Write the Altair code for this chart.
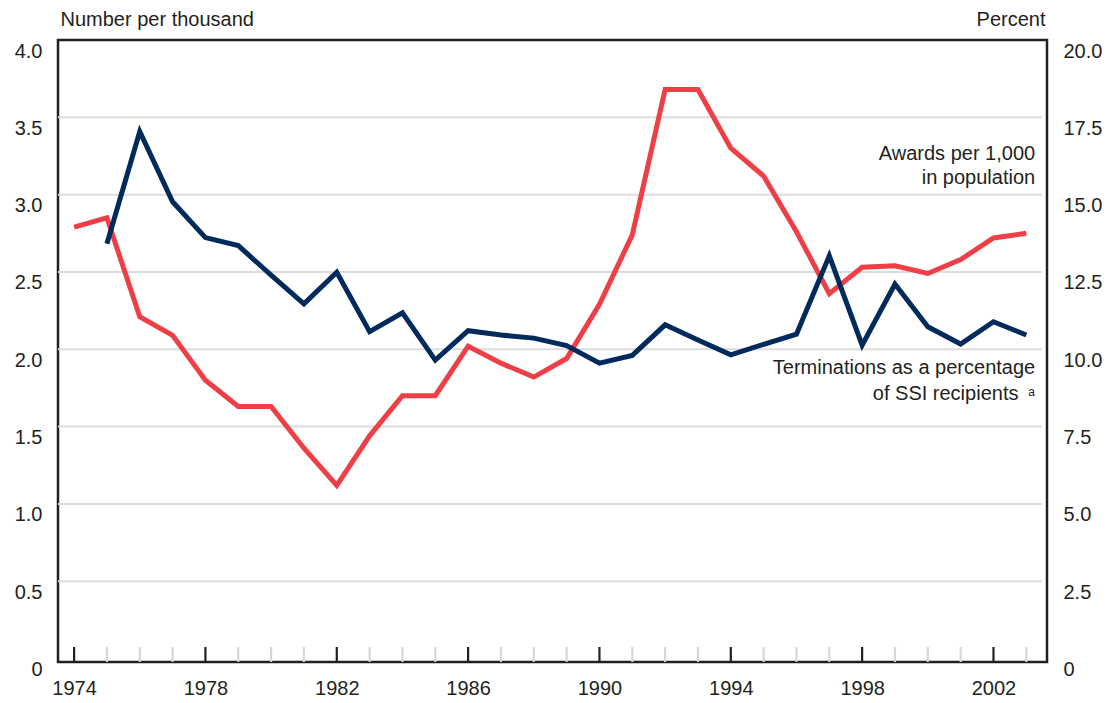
import altair as alt
import pandas as pd

# ---------------- data ----------------
years = list(range(1974, 2004))
awards_per_1000 = [2.79, 2.85, 2.21, 2.09, 1.80, 1.63, 1.63, 1.36, 1.12, 1.44,
                   1.70, 1.70, 2.02, 1.91, 1.82, 1.94, 2.29, 2.74, 3.68, 3.68,
                   3.30, 3.12, 2.76, 2.36, 2.53, 2.54, 2.49, 2.58, 2.72, 2.75]

term_years = list(range(1975, 2004))
terminations_pct = [13.41, 17.04, 14.77, 13.61, 13.35, 12.40, 11.47, 12.49, 10.57,
                    11.18, 9.65, 10.60, 10.46, 10.36, 10.12, 9.55, 9.80, 10.79,
                    10.30, 9.82, 10.16, 10.49, 13.02, 10.13, 12.11, 10.73, 10.17,
                    10.89, 10.46]

left_ticks = [0, 0.5, 1.0, 1.5, 2.0, 2.5, 3.0, 3.5, 4.0]
right_ticks = [0, 2.5, 5.0, 7.5, 10.0, 12.5, 15.0, 17.5, 20.0]
grid_values = [0.5, 1.0, 1.5, 2.0, 2.5, 3.0, 3.5]
label_years = [1974, 1978, 1982, 1986, 1990, 1994, 1998, 2002]
tick_years = list(range(1974, 2004))

ann_text = ["Awards per 1,000", "in population",
            "Terminations as a percentage", "of SSI recipients"]
ann_year = [2003.27, 2003.27, 2003.27, 2002.76]
ann_val = [3.265, 3.105, 1.879, 1.709]

sup_text = ["a"]
sup_year = [2003.26]
sup_val = [1.70]

# ---------------- styling ----------------
W, H = 989, 622
XDOM = [1973.51, 2003.63]
YL = [-0.0226, 4.0]
YR = [-0.113, 20.0]
INK = "#231f20"
RED = "#ef3e45"
NAVY = "#002a5c"
GRID = "#dcdcdc"
FONT = "Liberation Sans"
FS = 20

red_df = pd.DataFrame({"year": years, "awards": awards_per_1000})
blue_df = pd.DataFrame({"year": term_years, "pct": terminations_pct})
grid_df = pd.DataFrame({"g": grid_values})
tick_df = pd.DataFrame({"year": tick_years,
                        "kind": ["major" if y in label_years else "minor" for y in tick_years]})
ann_df = pd.DataFrame({"year": ann_year, "val": ann_val, "text": ann_text})
sup_df = pd.DataFrame({"year": sup_year, "val": sup_val, "text": sup_text})

xscale = alt.Scale(domain=XDOM, nice=False, zero=False)
x_axis = alt.Axis(values=label_years, format="d", ticks=False, domain=False, grid=False,
                  labelPadding=16, labelFontSize=FS, labelFont=FONT, labelColor=INK,
                  title=None)
x_enc = alt.X("year:Q", scale=xscale, axis=x_axis, title=None)

yl_scale = alt.Scale(domain=YL, nice=False, zero=False)
yr_scale = alt.Scale(domain=YR, nice=False, zero=False)

label_expr = "datum.value == 0 ? '0' : format(datum.value, '.1f')"

left_axis = alt.Axis(orient="left", values=left_ticks, labelExpr=label_expr,
                     ticks=False, domain=False, grid=False, labelPadding=16,
                     labelOffset=11, labelFontSize=FS, labelFont=FONT,
                     labelColor=INK, title="Number per thousand", titleAngle=0,
                     titleX=2, titleY=-15, titleAlign="left",
                     titleBaseline="alphabetic", titleFontSize=FS,
                     titleFont=FONT, titleColor=INK, titleFontWeight="normal")

right_axis = alt.Axis(orient="right", values=right_ticks, labelExpr=label_expr,
                      ticks=False, domain=False, grid=False, labelPadding=16,
                      labelOffset=11, labelFontSize=FS, labelFont=FONT,
                      labelColor=INK, title="Percent", titleAngle=0,
                      titleX=-2, titleY=-15, titleAlign="right",
                      titleBaseline="alphabetic", titleFontSize=FS,
                      titleFont=FONT, titleColor=INK, titleFontWeight="normal")

grid = alt.Chart(grid_df).mark_rule(color=GRID, strokeWidth=2).encode(
    y=alt.Y("g:Q", scale=yl_scale, axis=left_axis),
    x=alt.value(0),
    x2=alt.value(W - 5),
)

ticks = alt.Chart(tick_df).mark_rule(strokeWidth=2.2).encode(
    x=x_enc,
    y=alt.value(H - 15),
    y2=alt.value(H),
    color=alt.Color("kind:N", scale=alt.Scale(domain=["major", "minor"], range=[INK, "#d6d6d6"]),
                    legend=None),
)

red = alt.Chart(red_df).mark_line(color=RED, strokeWidth=5, strokeJoin="miter").encode(
    x=x_enc,
    y=alt.Y("awards:Q", scale=yl_scale, axis=left_axis),
)

ann = alt.Chart(ann_df).mark_text(align="right", baseline="middle", fontSize=FS,
                                  font=FONT, color=INK).encode(
    x=x_enc,
    y=alt.Y("val:Q", scale=yl_scale, axis=left_axis),
    text="text:N",
)

sup = alt.Chart(sup_df).mark_text(align="right", baseline="alphabetic", fontSize=12,
                                  font=FONT, color=INK).encode(
    x=x_enc,
    y=alt.Y("val:Q", scale=yl_scale, axis=left_axis),
    text="text:N",
)

left_layer = alt.layer(grid, ticks, red, ann, sup)

blue = alt.Chart(blue_df).mark_line(color=NAVY, strokeWidth=5, strokeJoin="miter").encode(
    x=x_enc,
    y=alt.Y("pct:Q", scale=yr_scale, axis=right_axis),
)

chart = alt.layer(left_layer, blue).resolve_scale(y="independent").properties(
    width=W,
    height=H,
    padding={"left": 50, "top": 32, "right": 55, "bottom": 40},
    autosize=alt.AutoSizeParams(type="none"),
    background="white",
).configure_view(stroke=INK, strokeWidth=2.5)

chart.save("out.html", embed_options={"renderer": "svg", "actions": False})
